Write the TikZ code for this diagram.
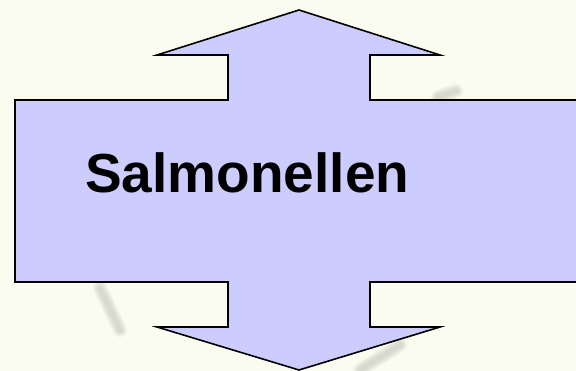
\documentclass[tikz,border=0pt]{standalone}
\usepackage{fontspec}
\setmainfont{Liberation Sans}
\definecolor{bgcream}{HTML}{F9FCEF}
\definecolor{arrowfill}{HTML}{CCCCFF}
\definecolor{smudge}{HTML}{A8AAA2}
\tikzset{
  arrowshape/.style={fill=arrowfill, draw=black, line width=1.6pt, line join=miter},
  smudgeline/.style={draw=smudge, line cap=round, opacity=0.12},
  label/.style={font=\bfseries\fontsize{55}{60}\selectfont, anchor=base west, inner sep=0pt}
}
\begin{document}
\begin{tikzpicture}[x=1pt,y=-1pt]
\fill[bgcream] (0,0) rectangle (576,371);
\useasboundingbox (0,0) rectangle (576,371);
% faint, blurred background smudges
\foreach \w in {14,11,8,5} {
  \draw[smudgeline, line width=\w pt] (100,288) -- (120,330);
  \draw[smudgeline, line width=\w pt] (360,370) -- (400,345);
  \draw[smudgeline, line width=\w pt] (438,97) -- (456,91);
}
% the double arrow
\draw[arrowshape] (299,10) -- (440,55) -- (370,55) -- (370,100) -- (600,100)
  -- (600,282) -- (370,282) -- (370,327) -- (440,327) -- (299,370)
  -- (157,327) -- (228,327) -- (228,282) -- (15,282) -- (15,100)
  -- (228,100) -- (228,55) -- (157,55) -- cycle;
\node[label] (title) at (85,193) {Salmonellen};
\end{tikzpicture}
\end{document}
